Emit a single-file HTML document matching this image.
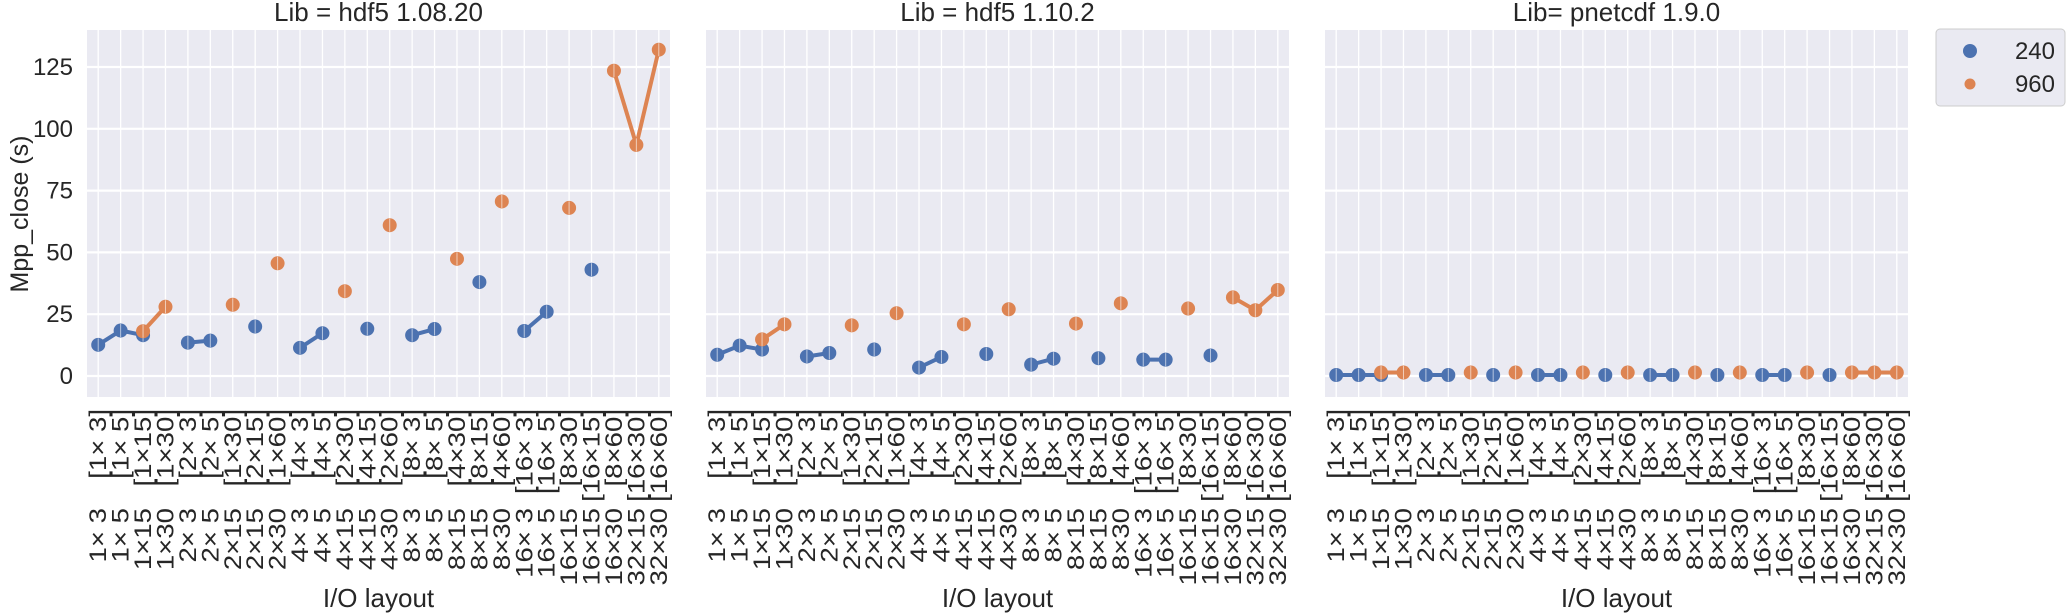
<!DOCTYPE html>
<html><head><meta charset="utf-8"><style>
html,body{margin:0;padding:0;background:#fff;}
svg{display:block;font-family:"Liberation Sans",Arial,sans-serif;}
</style></head><body>
<svg id="chart" width="2067" height="616" viewBox="0 0 2067 616" xmlns="http://www.w3.org/2000/svg"></svg>
<script>
const categories = ["1× 3|[1× 3]","1× 5|[1× 5]","1×15|[1×15]","1×30|[1×30]","2× 3|[2× 3]","2× 5|[2× 5]","2×15|[1×30]","2×15|[2×15]","2×30|[1×60]","4× 3|[4× 3]","4× 5|[4× 5]","4×15|[2×30]","4×15|[4×15]","4×30|[2×60]","8× 3|[8× 3]","8× 5|[8× 5]","8×15|[4×30]","8×15|[8×15]","8×30|[4×60]","16× 3|[16× 3]","16× 5|[16× 5]","16×15|[8×30]","16×15|[16×15]","16×30|[8×60]","32×15|[16×30]","32×30|[16×60]"];
const panelTitles = ["Lib = hdf5 1.08.20","Lib = hdf5 1.10.2","Lib= pnetcdf 1.9.0"];
const yTicks = [0,25,50,75,100,125];
const seriesNames = ["240","960"];
const p1Blue = [12.6,18.4,16.5,null,13.5,14.3,null,20,null,11.4,17.3,null,19.1,null,16.5,19,null,38,null,18.2,26,null,43,null,null,null];
const p1Orange = [null,null,18.1,28,null,null,28.8,null,45.6,null,null,34.3,null,61,null,null,47.4,null,70.6,null,null,68,null,123.5,93.5,132];
const p2Blue = [8.6,12.3,10.7,null,7.9,9.3,null,10.7,null,3.4,7.7,null,8.9,null,4.6,7,null,7.2,null,6.6,6.6,null,8.3,null,null,null];
const p2Orange = [null,null,14.8,20.9,null,null,20.5,null,25.4,null,null,20.9,null,27,null,null,21.2,null,29.4,null,null,27.3,null,31.8,26.6,34.8];
const p3Blue = [0.4,0.4,0.4,null,0.4,0.4,null,0.4,null,0.4,0.4,null,0.4,null,0.4,0.4,null,0.4,null,0.4,0.4,null,0.4,null,null,null];
const p3Orange = [null,null,1.4,1.4,null,null,1.4,null,1.4,null,null,1.4,null,1.4,null,null,1.4,null,1.4,null,null,1.4,null,1.4,1.4,1.4];

const NS="http://www.w3.org/2000/svg";
const svg=document.getElementById('chart');
const colors=["#4c72b0","#dd8452"];
const panelLeft=[87,706,1325], PW=583, TOP=30, BOT=397;
const Y0=376, YPER=(376-67)/125;
function yScale(v){return Y0 - v*YPER;}
function xScale(p,i){const step=PW/categories.length;return panelLeft[p]+step*(i+0.5);}
function mk(tag,attrs,parent){const e=document.createElementNS(NS,tag);for(const k in attrs)e.setAttribute(k,attrs[k]);(parent||svg).appendChild(e);return e;}

const panels=[[p1Blue,p1Orange],[p2Blue,p2Orange],[p3Blue,p3Orange]];
panels.forEach((series,p)=>{
  const g=mk('g',{});
  
  
  const bg=mk('rect',{x:panelLeft[p],y:TOP,width:PW,height:BOT-TOP,fill:'#eaeaf2'},g);
  
  
  categories.forEach((c,i)=>{
    const l=mk('line',{x1:xScale(p,i),x2:xScale(p,i),y1:TOP,y2:BOT,stroke:'#fff','stroke-width':1.3},g);
    
    
  });
  yTicks.forEach(t=>{
    const l=mk('line',{x1:panelLeft[p],x2:panelLeft[p]+PW,y1:yScale(t),y2:yScale(t),stroke:'#fff','stroke-width':2.2},g);
    
    
    if(p===0){
      const tx=mk('text',{x:panelLeft[0]-14,y:yScale(t)+8,'text-anchor':'end','font-size':24,fill:'#262626'},g);
      tx.textContent=t;
      
      
    }
  });
  const title=mk('text',{x:panelLeft[p]+PW/2,y:21,'text-anchor':'middle','font-size':26,fill:'#262626'},g);
  title.textContent=panelTitles[p];
  
  
  const xt=mk('text',{x:panelLeft[p]+PW/2,y:607,'text-anchor':'middle','font-size':26,fill:'#262626'},g);
  xt.textContent='I/O layout';
  
  
  categories.forEach((c,i)=>{
    const parts=c.split('|');
    const x=xScale(p,i)+8;
    const t1=mk('text',{transform:'translate('+x+',409) rotate(-90) scale(1.15,1)','text-anchor':'end','font-size':24,fill:'#262626'},g);
    t1.setAttribute('xml:space','preserve');
    t1.textContent=parts[1];
    
    
    const t2=mk('text',{transform:'translate('+x+',508) rotate(-90) scale(1.15,1)','text-anchor':'end','font-size':24,fill:'#262626'},g);
    t2.setAttribute('xml:space','preserve');
    t2.textContent=parts[0];
    
    
  });
  series.forEach((vals,s)=>{
    for(let i=1;i<vals.length;i++){
      if(vals[i]!=null&&vals[i-1]!=null){
        const l=mk('line',{x1:xScale(p,i-1),y1:yScale(vals[i-1]),x2:xScale(p,i),y2:yScale(vals[i]),stroke:colors[s],'stroke-width':4,'stroke-linecap':'round'},g);
        
        
      }
    }
  });
  series.forEach((vals,s)=>{
    vals.forEach((v,i)=>{
      if(v==null)return;
      const cx=xScale(p,i), cy=yScale(v);
      const c=mk('circle',{cx:cx,cy:cy,r:7,fill:colors[s]},g);
      
      
      const w=mk('line',{x1:cx,x2:cx,y1:cy-6.5,y2:cy+6.5,stroke:'#fff','stroke-width':1,'stroke-opacity':0.6},g);
      
      
    });
  });
});
const yl=mk('text',{transform:'translate(28,214) rotate(-90)','text-anchor':'middle','font-size':25,fill:'#262626'});
yl.textContent='Mpp_close (s)';



const lg=mk('g',{});


const lb=mk('rect',{x:1936,y:29,width:129,height:77,rx:4,fill:'#eaeaf2',stroke:'#cccccc','stroke-width':1},lg);


seriesNames.forEach((n,s)=>{
  const cy=s===0?51:84;
  const c=mk('circle',{cx:1970,cy:cy,r:s===0?7:5.5,fill:colors[s]},lg);
  
  
  const t=mk('text',{x:2055,y:cy+8,'text-anchor':'end','font-size':24,fill:'#262626'},lg);
  t.textContent=n;
  
  
});
</script>
</body></html>
